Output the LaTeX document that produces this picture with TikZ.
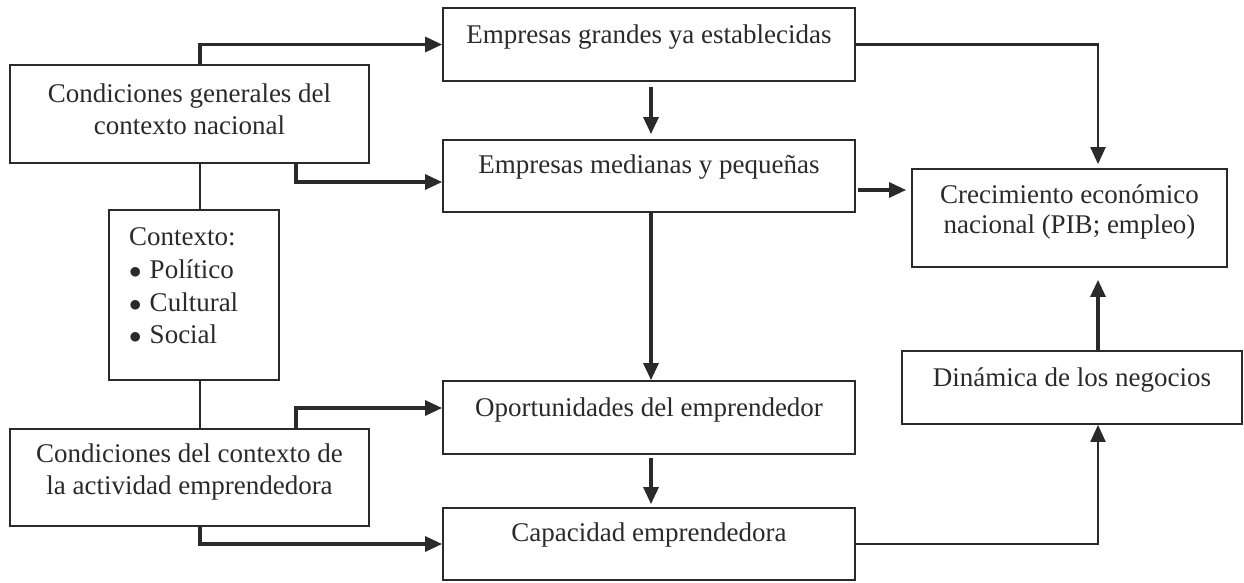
\documentclass[tikz,border=0pt]{standalone}
\usepackage{fontspec}
\setmainfont{Liberation Serif}
\usetikzlibrary{arrows.meta,calc}
\definecolor{ink}{HTML}{2A2A2A}
\begin{document}
\begin{tikzpicture}[x=1pt,y=-1pt]
\tikzset{
 box/.style={draw=ink,line width=1.8pt,inner sep=0pt,rectangle},
 txt/.style={text=ink,font=\fontsize{27}{32}\selectfont,align=center,inner sep=0pt},
 tip/.style={-{Triangle[length=17pt,width=15pt]}},
 arr/.style={draw=ink,line width=3.2pt,tip},
 thin/.style={draw=ink,line width=2.2pt,tip},
 ln/.style={draw=ink,line width=2pt}
}
\useasboundingbox (0,0) rectangle (1244,582);
% boxes
\node[box,minimum width=412pt,minimum height=73pt] (G) at (649,44.5) {};
\node[box,minimum width=412pt,minimum height=72pt] (M) at (649,176) {};
\node[box,minimum width=412pt,minimum height=73pt] (O) at (649,417.5) {};
\node[box,minimum width=412pt,minimum height=72pt] (Cap) at (649,544) {};
\node[box,minimum width=359pt,minimum height=98pt] (CG) at (189.5,114) {};
\node[box,minimum width=359pt,minimum height=97pt] (CE) at (189.5,477.5) {};
\node[box,minimum width=170pt,minimum height=170pt] (Ctx) at (194,295) {};
\node[box,minimum width=315pt,minimum height=98pt] (Cr) at (1069.5,218) {};
\node[box,minimum width=340pt,minimum height=73pt] (D) at (1072,387.5) {};
% texts
\node[txt] (Gt) at (649,37) {Empresas grandes ya establecidas};
\node[txt] (Mt) at (649,167) {Empresas medianas y pequeñas};
\node[txt] (Ot) at (649,410) {Oportunidades del emprendedor};
\node[txt] (Capt) at (649,535) {Capacidad emprendedora};
\node[txt] (CGt) at (189.5,109) {Condiciones generales del\\contexto nacional};
\node[txt] (CEt) at (189.5,472) {Condiciones del contexto de\\la actividad emprendedora};
\node[txt,font=\fontsize{27}{30}\selectfont] (Crt) at (1069.5,212) {Crecimiento económico\\nacional (PIB; empleo)};
\node[txt] (Dt) at (1072,380) {Dinámica de los negocios};
\node[txt,align=left,anchor=west,font=\fontsize{27}{32.7}\selectfont] (Ctxt) at (129,286) {Contexto:\\$\bullet$\hspace{0.3em}Político\\$\bullet$\hspace{0.3em}Cultural\\$\bullet$\hspace{0.3em}Social};
% connectors
\draw[arr] ([xshift=10.5pt]CG.north) |- (G.west);
\draw[arr] ([xshift=106.5pt]CG.south) |- ([yshift=-6pt]M.west);
\draw[ln] ([xshift=10.5pt]CG.south) -- ([xshift=6pt]Ctx.north);
\draw[ln] ([xshift=6pt]Ctx.south) -- ([xshift=10.5pt]CE.north);
\draw[arr] ([xshift=106.5pt]CE.north) |- ([yshift=9.5pt]O.west);
\draw[arr] ([xshift=10.5pt]CE.south) |- (Cap.west);
\draw[arr,shorten <=5pt,shorten >=5pt] ([xshift=2pt]G.south) -- ([xshift=2pt]M.north);
\draw[arr] ([xshift=2pt]M.south) -- ([xshift=2pt]O.north);
\draw[arr,shorten <=3pt,shorten >=3pt] ([xshift=2pt]O.south) -- ([xshift=2pt]Cap.north);
\draw[thin,shorten >=4pt] (G.east) -| ([xshift=28.5pt]Cr.north);
\draw[arr,shorten <=2pt,shorten >=5pt] ([yshift=-14pt]M.east) -- ([yshift=-14pt]M.east -| Cr.west);
\draw[arr,shorten >=12pt] ([xshift=26pt]D.north) -- ([xshift=28.5pt]Cr.south);
\draw[thin] (Cap.east) -| ([xshift=26pt]D.south);
\end{tikzpicture}
\end{document}
